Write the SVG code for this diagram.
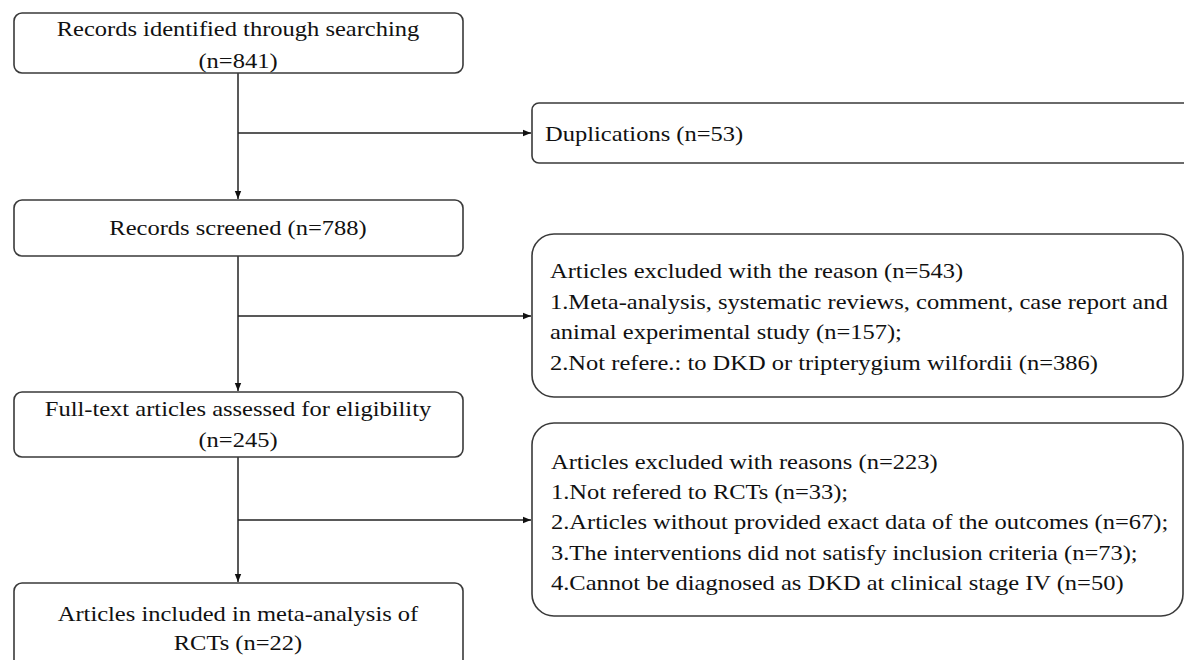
<svg xmlns="http://www.w3.org/2000/svg" width="1184" height="660" viewBox="0 0 1184 660">
  <style>
    .box { fill: #ffffff; stroke: #3a3a3a; stroke-width: 1.6; }
    .t { font-family: "Liberation Serif", "Times New Roman", serif; font-size: 21px; fill: #111111; }
    .c { text-anchor: middle; }
    .line { fill: none; stroke: #222222; stroke-width: 1.5; }
  </style>
  <defs>
    <marker id="arr" viewBox="0 0 10 10" refX="10" refY="5" markerWidth="8" markerHeight="8" markerUnits="userSpaceOnUse" orient="auto">
      <path d="M0,1 L10,5 L0,9 Z" fill="#111111"/>
    </marker>
  </defs>
  <rect width="1184" height="660" fill="#ffffff"/>

  <g id="connectors">
    <line class="line" x1="238" y1="73" x2="238" y2="199" marker-end="url(#arr)"/>
    <line class="line" x1="238" y1="133" x2="531" y2="133" marker-end="url(#arr)"/>
    <line class="line" x1="238" y1="256" x2="238" y2="391" marker-end="url(#arr)"/>
    <line class="line" x1="238" y1="316" x2="531" y2="316" marker-end="url(#arr)"/>
    <line class="line" x1="238" y1="457" x2="238" y2="582" marker-end="url(#arr)"/>
    <line class="line" x1="238" y1="520" x2="531" y2="520" marker-end="url(#arr)"/>
  </g>

  <g id="records-identified">
    <rect class="box" x="14" y="13" width="449" height="60" rx="8"/>
    <text class="t c" transform="translate(238,0) scale(1.167,1)"><tspan x="0" y="36">Records identified through searching</tspan><tspan x="0" y="68">(n=841)</tspan></text>
  </g>

  <g id="duplications">
    <rect class="box" x="532" y="103" width="680" height="60" rx="7"/>
    <text class="t" transform="translate(545,0) scale(1.167,1)"><tspan x="0" y="141">Duplications (n=53)</tspan></text>
  </g>

  <g id="records-screened">
    <rect class="box" x="14" y="200" width="449" height="56" rx="8"/>
    <text class="t c" transform="translate(238,0) scale(1.167,1)"><tspan x="0" y="235">Records screened (n=788)</tspan></text>
  </g>

  <g id="excluded-543">
    <rect class="box" x="532" y="234" width="651" height="163" rx="22"/>
    <text class="t" transform="translate(550,0) scale(1.167,1)"><tspan x="0" y="278">Articles excluded with the reason (n=543)</tspan><tspan x="0" y="309">1.Meta-analysis, systematic reviews, comment, case report and</tspan><tspan x="0" y="339">animal experimental study (n=157);</tspan><tspan x="0" y="370">2.Not refere.: to DKD or tripterygium wilfordii (n=386)</tspan></text>
  </g>

  <g id="full-text">
    <rect class="box" x="14" y="392" width="449" height="65" rx="8"/>
    <text class="t c" transform="translate(238,0) scale(1.167,1)"><tspan x="0" y="416">Full-text articles assessed for eligibility</tspan><tspan x="0" y="447">(n=245)</tspan></text>
  </g>

  <g id="excluded-223">
    <rect class="box" x="532" y="423" width="651" height="193" rx="22"/>
    <text class="t" transform="translate(551,0) scale(1.167,1)"><tspan x="0" y="469">Articles excluded with reasons (n=223)</tspan><tspan x="0" y="499">1.Not refered to RCTs (n=33);</tspan><tspan x="0" y="529">2.Articles without provided exact data of the outcomes (n=67);</tspan><tspan x="0" y="560">3.The interventions did not satisfy inclusion criteria (n=73);</tspan><tspan x="0" y="590">4.Cannot be diagnosed as DKD at clinical stage IV (n=50)</tspan></text>
  </g>

  <g id="included">
    <rect class="box" x="14" y="583" width="449" height="100" rx="8"/>
    <text class="t c" transform="translate(238,0) scale(1.167,1)"><tspan x="0" y="621">Articles included in meta-analysis of</tspan><tspan x="0" y="650">RCTs (n=22)</tspan></text>
  </g>
</svg>
